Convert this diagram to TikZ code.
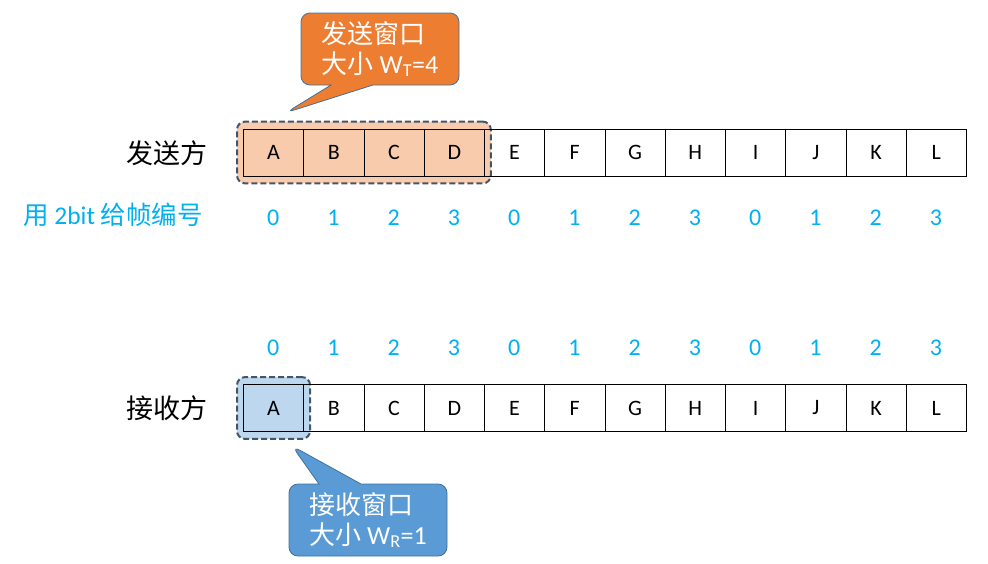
\documentclass[tikz,border=0pt]{standalone}
\usepackage{fontspec}
\setmainfont{Carlito}
\newfontfamily\cjk{Noto Sans CJK SC}
\usetikzlibrary{shapes.callouts,positioning,fit,backgrounds}
\definecolor{numblue}{HTML}{00B0F0}
\definecolor{sendfill}{HTML}{F8CBAD}
\definecolor{sendcall}{HTML}{ED7D31}
\definecolor{recvfill}{HTML}{BDD7EE}
\definecolor{recvcall}{HTML}{5B9BD5}
\definecolor{winline}{HTML}{44546A}
\definecolor{callline}{HTML}{41719C}

\begin{document}
\begin{tikzpicture}[x=1pt, y=-1pt,
    cell/.style={draw, line width=0.8pt, minimum width=60.25pt, minimum height=47pt, inner sep=0pt, anchor=west, font=\fontsize{22}{24}\selectfont},
    num/.style={text=numblue, font=\fontsize{24}{26}\selectfont},
    side/.style={font=\cjk\fontsize{27}{29}\selectfont},
    win/.style={draw=winline, line width=2pt, dash pattern=on 6pt off 3pt, rounded corners=8pt, inner xsep=6pt, inner ysep=7pt},
    bubble/.style={rectangle callout, draw=callline, line width=0.8pt, rounded corners=9pt, minimum width=158pt, minimum height=72pt, text=white, align=left, callout pointer width=42pt, font=\fontsize{26}{30}\selectfont}
  ]
    \useasboundingbox (0,0) rectangle (988,563);

    % sender row
    \node[side] (sendlbl) at (167,153) {发送方};
    \node[font=\fontsize{25.5}{27}\selectfont, text=numblue] (numlbl) at (113,215) {{\cjk 用} 2bit {\cjk 给帧编号}};
    \foreach \f [count=\i] in {A,B,C,D,E,F,G,H,I,J,K,L} {
      \node[cell] (s\i) at ({243+(\i-1)*60.25},152.5) {\f};
      \pgfmathtruncatemacro{\n}{mod(\i-1,4)}
      \node[num] (sn\i) at ({273.1+(\i-1)*60.25},218) {\n};
    }

    % receiver row
    \node[side] (recvlbl) at (167,408) {接收方};
    \foreach \f [count=\i] in {A,B,C,D,E,F,G,H,I,J,K,L} {
      \node[cell] (r\i) at ({243+(\i-1)*60.25},408) {\f};
      \pgfmathtruncatemacro{\n}{mod(\i-1,4)}
      \node[num] (rn\i) at ({273.1+(\i-1)*60.25},348) {\n};
    }

    % windows
    \begin{scope}[on background layer]
      \node[win, fill=sendfill, fit=(s1)(s4)] (swin) {};
      \node[win, fill=recvfill, fit=(r1)] (rwin) {};
    \end{scope}

    % callouts
    \node[bubble, fill=sendcall, callout absolute pointer={([xshift=50pt,yshift=8pt]swin.north west)}] (scall) at (380,49)
      {{\cjk 发送窗口}\\{\cjk 大小} W\textsubscript{T}=4};
    \node[bubble, fill=recvcall, callout absolute pointer={([xshift=56pt,yshift=-6pt]rwin.south west)}] (rcall) at (368,520)
      {{\cjk 接收窗口}\\{\cjk 大小} W\textsubscript{R}=1};
\end{tikzpicture}
\end{document}
